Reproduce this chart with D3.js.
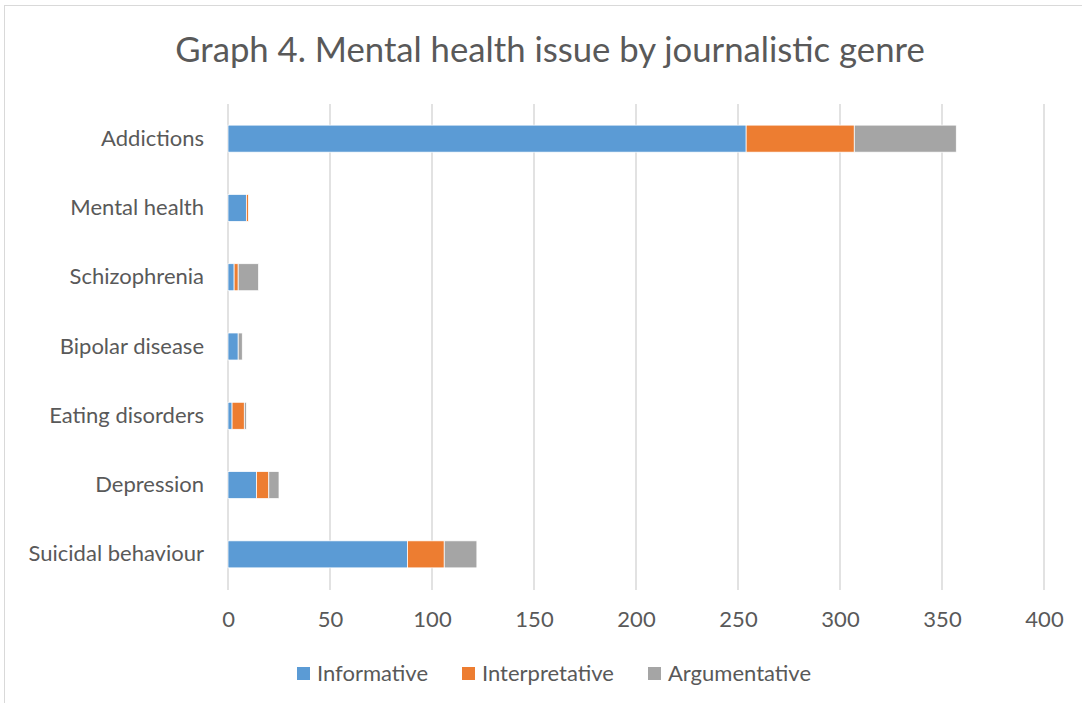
<!DOCTYPE html>
<html><head><meta charset="utf-8">
<script src="https://cdn.jsdelivr.net/npm/d3@7"></script>
<style>body{margin:0;background:#fff;} svg{display:block;}</style>
</head><body>
<svg id="chart" width="1082" height="703"></svg>
<script>
const categories = ["Addictions","Mental health","Schizophrenia","Bipolar disease","Eating disorders","Depression","Suicidal behaviour"];
const seriesNames = ["Informative","Interpretative","Argumentative"];
const informative = [254, 9, 3, 5, 2, 14, 88];
const interpretative = [53, 1, 2, 0, 6, 6, 18];
const argumentative = [50, 0, 10, 2, 1, 5, 16];
const xTicks = [0,50,100,150,200,250,300,350,400];
const colors = ["#5b9bd5","#ed7d31","#a5a5a5"];
const title = "Graph 4. Mental health issue by journalistic genre";

const font = "Lato, 'Open Sans', sans-serif";
const svg = d3.select("#chart");
svg.append("rect").attr("x",4.5).attr("y",5.5).attr("width",1090).attr("height",710)
  .attr("fill","#fff").attr("stroke","#d9d9d9").attr("stroke-width",1);

const m = {left:228, right:1044, top:104, bottom:589};
const x = d3.scaleLinear().domain([0,400]).range([m.left,m.right]);
const y = d3.scaleBand().domain(categories).range([m.top,m.bottom]).paddingInner(0.61).paddingOuter(0.305);

const data = categories.map((c,i)=>({cat:c, Informative:informative[i], Interpretative:interpretative[i], Argumentative:argumentative[i]}));
const stacked = d3.stack().keys(seriesNames)(data);

// gridlines
svg.append("g").selectAll("line").data(xTicks).join("line")
  .attr("x1",d=>x(d)).attr("x2",d=>x(d)).attr("y1",m.top).attr("y2",m.bottom+1)
  .attr("stroke","#d9d9d9").attr("stroke-width",1.5);

// bars
svg.append("g").selectAll("g").data(stacked).join("g")
  .attr("fill",(d,i)=>colors[i])
  .selectAll("rect").data(d=>d).join("rect")
  .attr("x",d=>x(d[0])).attr("width",d=>x(d[1])-x(d[0]))
  .attr("y",d=>y(d.data.cat)).attr("height",y.bandwidth())
  .attr("stroke","#fff").attr("stroke-width",0.75);

// x axis tick labels
const xAxis = d3.axisBottom(x).tickValues(xTicks).tickSize(0).tickPadding(0);
const gx = svg.append("g").attr("transform",`translate(0,${m.bottom+22})`).call(xAxis);
gx.select(".domain").remove();
gx.selectAll("text").attr("font-family",font).attr("font-size",22).attr("fill","#595959");

// y axis labels
const yAxis = d3.axisLeft(y).tickSize(0).tickPadding(0);
const gy = svg.append("g").attr("transform",`translate(${m.left-24},0)`).call(yAxis);
gy.select(".domain").remove();
gy.selectAll("text").attr("font-family",font).attr("font-size",22).attr("fill","#595959");

// title
svg.append("text").attr("x",550).attr("y",62).attr("text-anchor","middle")
  .attr("font-family",font).attr("font-size",34.7).attr("fill","#595959").text(title);

// legend
const legX = [297, 462, 648];
const leg = svg.append("g").selectAll("g").data(seriesNames).join("g")
  .attr("transform",(d,i)=>`translate(${legX[i]},667)`);
leg.append("rect").attr("width",13).attr("height",13).attr("fill",(d,i)=>colors[i]);
leg.append("text").attr("x",20).attr("y",14).attr("font-family",font).attr("font-size",22)
  .attr("fill","#595959").text(d=>d);
</script>
</body></html>
